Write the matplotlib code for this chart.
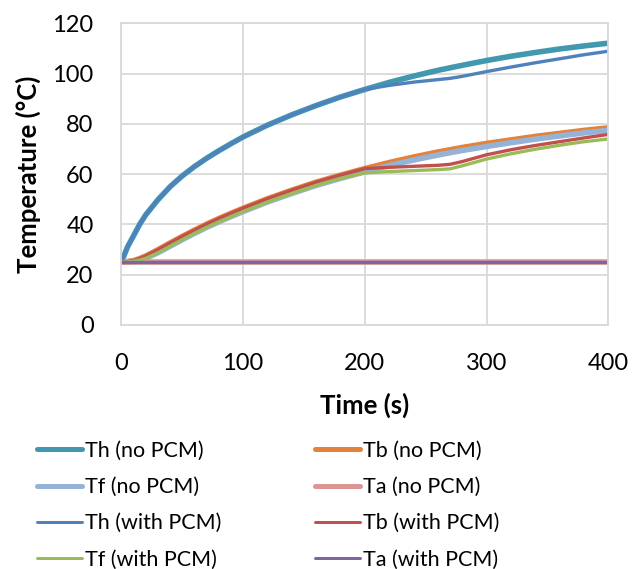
import matplotlib.pyplot as plt
from matplotlib.lines import Line2D

plt.rcParams['font.family'] = ['Lato', 'DejaVu Sans']

time_s = [0, 5, 10, 15, 20, 30, 40, 50, 60, 70, 80, 90, 100, 120, 140, 160, 180,
          200, 220, 240, 260, 270, 280, 300, 320, 340, 360, 380, 400]

th_no = [25, 31, 35.5, 40, 43.8, 49.8, 55, 59.3, 63, 66.3, 69.3, 72.1, 74.8, 79.5, 83.6,
         87.3, 90.7, 93.7, 96.5, 99, 101.3, 102.3, 103.3, 105.2, 106.9, 108.4, 109.8, 111, 112.1]
tb_no = [25, 25.2, 25.6, 26.4, 27.4, 29.9, 32.6, 35.2, 37.7, 40.1, 42.3, 44.4, 46.4, 50.2,
         53.6, 56.8, 59.6, 62.2, 64.6, 66.8, 68.8, 69.7, 70.6, 72.2, 73.6, 75.0, 76.2, 77.4, 78.4]
tf_no = [25, 25.1, 25.3, 25.8, 26.5, 28.7, 31.3, 33.9, 36.4, 38.8, 41.0, 43.1, 45.1, 48.9,
         52.3, 55.5, 58.3, 60.9, 63.4, 65.6, 67.6, 68.5, 69.4, 71.0, 72.5, 73.9, 75.2, 76.4, 77.4]
ta_no = [25] * len(time_s)

th_pcm = th_no[:18] + [95.3, 96.6, 97.6, 98.1, 98.9, 100.8, 102.6, 104.3, 105.9, 107.5, 108.9]
tb_pcm = tb_no[:18] + [62.7, 63.1, 63.5, 63.9, 65.0, 67.7, 69.7, 71.4, 72.9, 74.4, 75.8]
tf_pcm = tf_no[:17] + [60.5, 61, 61.4, 61.8, 62.1, 63.3, 66.0, 68.1, 69.9, 71.5, 72.9, 74.0]
ta_pcm = [25] * len(time_s)

series = [
    ('Th (no PCM)', th_no, '#4198AF', 4.0),
    ('Tb (no PCM)', tb_no, '#E3823B', 4.0),
    ('Tf (no PCM)', tf_no, '#95B3D7', 4.0),
    ('Ta (no PCM)', ta_no, '#D99694', 4.0),
    ('Th (with PCM)', th_pcm, '#4F81BD', 2.4),
    ('Tb (with PCM)', tb_pcm, '#C0504D', 2.4),
    ('Tf (with PCM)', tf_pcm, '#9BBB59', 2.4),
    ('Ta (with PCM)', ta_pcm, '#8064A2', 2.4),
]

fig = plt.figure(figsize=(6.39, 5.69), dpi=100)
ax = fig.add_axes([0.19, 0.429, 0.762, 0.53])

handles = {}
for name, vals, col, lw in series:
    ax.plot(time_s, vals, color=col, lw=lw, solid_capstyle='round')
    handles[name] = Line2D([], [], color=col, lw=lw * 0.9, solid_capstyle='round')

ax.set_xlim(0, 400)
ax.set_ylim(0, 120)
ax.set_xticks([0, 100, 200, 300, 400])
ax.set_yticks(range(0, 121, 20))
ax.grid(True, color='#D9D9D9', lw=1.3)
ax.set_axisbelow(True)
for sp in ax.spines.values():
    sp.set_color('#D9D9D9')
    sp.set_linewidth(1.3)
ax.tick_params(axis='x', length=0, labelsize=17, pad=20)
ax.tick_params(axis='y', length=0, labelsize=17, pad=20)
ax.set_xlabel('Time (s)', fontsize=18.5, fontweight='bold', labelpad=14)
ax.set_ylabel('Temperature (°C)', fontsize=18.5, fontweight='bold', labelpad=8)

left_names = ['Th (no PCM)', 'Tf (no PCM)', 'Th (with PCM)', 'Tf (with PCM)']
right_names = ['Tb (no PCM)', 'Ta (no PCM)', 'Tb (with PCM)', 'Ta (with PCM)']
for names, x0 in [(left_names, 0.058), (right_names, 0.493)]:
    fig.legend([handles[n] for n in names], names, loc='upper left',
               bbox_to_anchor=(x0, 0.225), frameon=False, fontsize=15.5,
               handlelength=2.1, handletextpad=0.14, labelspacing=0.75,
               borderaxespad=0, borderpad=0)

fig.savefig('out.png', dpi=100)
